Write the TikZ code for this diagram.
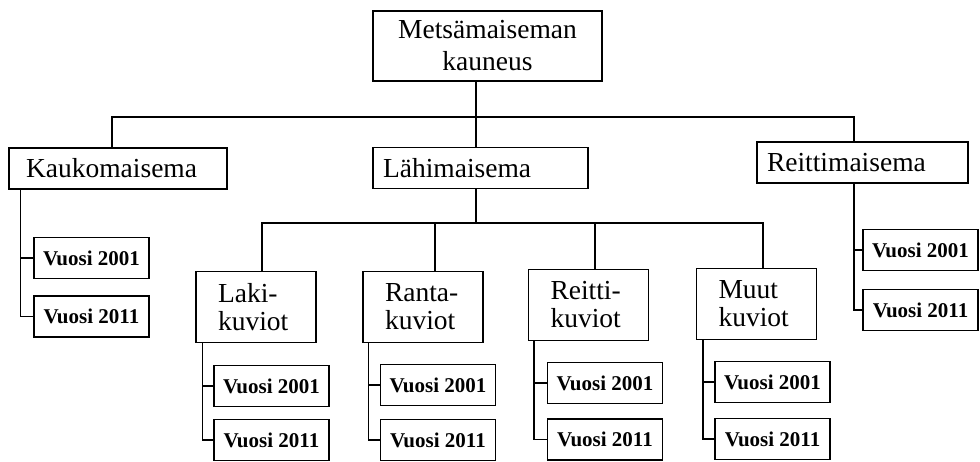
\documentclass[tikz,border=0pt]{standalone}
\usepackage{fontspec}
\setmainfont{Liberation Serif}
\newcommand\isofont{\fontsize{27.5}{32}\selectfont}
\newcommand\alafont{\fontsize{27.5}{28}\selectfont}
\newcommand\vuosifont{\fontsize{21}{22}\selectfont\bfseries}

\begin{document}
\begin{tikzpicture}[x=1pt, y=-1pt, line width=1.3pt,
  kehys/.style={draw, inner ysep=0pt, inner xsep=#1, align=left},
  paa/.style={kehys=#1, minimum height=41pt, font=\isofont},
  ala/.style={kehys=22pt, text width=76pt, minimum height=71pt, font=\alafont},
  vuosi/.style={draw, inner sep=0pt, minimum width=115pt, minimum height=41pt, font=\vuosifont}]

  %% ════ 页面 ════
  \useasboundingbox (0,0) rectangle (980,461);

  %% ════ 顶层 ════
  \node[kehys=12pt, text width=205pt, align=center, minimum height=70pt, font=\isofont] (top) at (487.5,46) {Metsämaiseman\\kauneus};

  %% ════ 第二层 ════
  \node[paa=17pt, text width=184pt] (kauko) at (118,168.5) {Kaukomaisema};
  \node[paa=10pt, text width=195pt] (lahi) at (480.5,168) {Lähimaisema};
  \node[paa=10pt, text width=191pt] (reitm) at (862.5,162.5) {Reittimaisema};

  %% ════ 第三层 ════
  \node[ala] (laki) at (256,307) {Laki-\\kuviot};
  \node[ala] (ranta) at (423,307) {Ranta-\\kuviot};
  \node[ala] (reitk) at (588.5,305) {Reitti-\\kuviot};
  \node[ala] (muut) at (756.5,304) {Muut\\kuviot};

  %% ════ 年份框 ════
  \node[vuosi] (k01) at (91.5,258) {Vuosi 2001};
  \node[vuosi] (k11) at (91.5,316.5) {Vuosi 2011};
  \node[vuosi] (laki01) at (271.5,386) {Vuosi 2001};
  \node[vuosi] (laki11) at (271.5,440) {Vuosi 2011};
  \node[vuosi] (ranta01) at (438,385) {Vuosi 2001};
  \node[vuosi] (ranta11) at (438,440) {Vuosi 2011};
  \node[vuosi] (reitk01) at (605,383) {Vuosi 2001};
  \node[vuosi] (reitk11) at (605,439.5) {Vuosi 2011};
  \node[vuosi] (muut01) at (772.5,382) {Vuosi 2001};
  \node[vuosi] (muut11) at (772.5,439) {Vuosi 2011};
  \node[vuosi] (r01) at (920.5,250) {Vuosi 2001};
  \node[vuosi] (r11) at (920.5,310) {Vuosi 2011};

  %% ════ 连线 ════
  \coordinate (yla) at (476,117);
  \coordinate (alarivi) at (476,223);
  \draw ([xshift=-11.5pt]top.south) -- ([xshift=-4.5pt]lahi.north);
  \draw ([xshift=-6pt]kauko.north) |- (yla) -| ([xshift=-8.5pt]reitm.north);
  \draw ([xshift=-4.5pt]lahi.south) -- (alarivi);
  \draw ([xshift=6pt]laki.north) |- (alarivi) -| ([xshift=6.5pt]muut.north);
  \draw ([xshift=12pt]ranta.north) -- ([xshift=12pt]ranta.north |- alarivi);
  \draw ([xshift=6.5pt]reitk.north) -- ([xshift=6.5pt]reitk.north |- alarivi);

  %% ════ 年份连线 ════
  \draw ([xshift=12pt]kauko.south west) |- (k11.west);
  \draw ([xshift=12pt]kauko.south west |- k01.west) -- (k01.west);
  \draw ([xshift=-8.5pt]reitm.south) |- (r11.west);
  \draw ([xshift=-8.5pt]reitm.south |- r01.west) -- (r01.west);
  \draw ([xshift=7pt]laki.south west) |- (laki11.west);
  \draw ([xshift=7pt]laki.south west |- laki01.west) -- (laki01.west);
  \draw ([xshift=6pt]ranta.south west) |- (ranta11.west);
  \draw ([xshift=6pt]ranta.south west |- ranta01.west) -- (ranta01.west);
  \draw ([xshift=6pt]reitk.south west) |- (reitk11.west);
  \draw ([xshift=6pt]reitk.south west |- reitk01.west) -- (reitk01.west);
  \draw ([xshift=7pt]muut.south west) |- (muut11.west);
  \draw ([xshift=7pt]muut.south west |- muut01.west) -- (muut01.west);
\end{tikzpicture}
\end{document}
